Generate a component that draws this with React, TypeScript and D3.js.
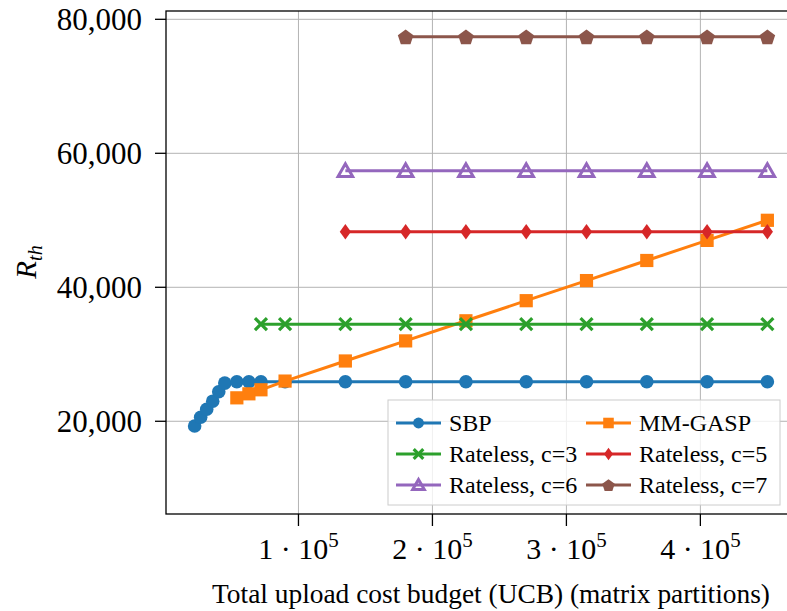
import * as d3 from 'd3'

// data
const sbpX = [22500, 27000, 31500, 36000, 40500, 45000, 54000, 63000, 72000, 90000, 135000, 180000, 225000, 270000, 315000, 360000, 405000, 450000]
const sbpY = [19300, 20600, 21800, 23000, 24400, 25700, 25900, 25900, 25900, 25900, 25900, 25900, 25900, 25900, 25900, 25900, 25900, 25900]
const gaspX = [54000, 63000, 72000, 90000, 135000, 180000, 225000, 270000, 315000, 360000, 405000, 450000]
const gaspY = [23500, 24100, 24700, 26000, 29000, 32000, 35000, 38000, 41000, 44000, 47000, 50000]
const c3X = [72000, 90000, 135000, 180000, 225000, 270000, 315000, 360000, 405000, 450000]
const c3Y = [34500, 34500, 34500, 34500, 34500, 34500, 34500, 34500, 34500, 34500]
const c5X = [135000, 180000, 225000, 270000, 315000, 360000, 405000, 450000]
const c5Y = [48300, 48300, 48300, 48300, 48300, 48300, 48300, 48300]
const c6X = [135000, 180000, 225000, 270000, 315000, 360000, 405000, 450000]
const c6Y = [57400, 57400, 57400, 57400, 57400, 57400, 57400, 57400]
const c7X = [180000, 225000, 270000, 315000, 360000, 405000, 450000]
const c7Y = [77400, 77400, 77400, 77400, 77400, 77400, 77400]

const xTicks = [100000, 200000, 300000, 400000]
const yTicks = [20000, 40000, 60000, 80000]

type Marker = 'circle' | 'square' | 'cross' | 'diamond' | 'triangle' | 'pentagon'

const series: { name: string; xs: number[]; ys: number[]; color: string; marker: Marker }[] = [
  { name: 'SBP', xs: sbpX, ys: sbpY, color: '#1f77b4', marker: 'circle' },
  { name: 'MM-GASP', xs: gaspX, ys: gaspY, color: '#ff7f0e', marker: 'square' },
  { name: 'Rateless, c=3', xs: c3X, ys: c3Y, color: '#2ca02c', marker: 'cross' },
  { name: 'Rateless, c=5', xs: c5X, ys: c5Y, color: '#d62728', marker: 'diamond' },
  { name: 'Rateless, c=6', xs: c6X, ys: c6Y, color: '#9467bd', marker: 'triangle' },
  { name: 'Rateless, c=7', xs: c7X, ys: c7Y, color: '#8c564b', marker: 'pentagon' },
]

const W = 787
const H = 611
const left = 166
const top = 11
const right = 796
const bottom = 514

const x = d3.scaleLinear().domain([1125, 471375]).range([left, right])
const y = d3.scaleLinear().domain([6160, 81240]).range([bottom, top])

const serif = { fontFamily: "'Liberation Serif', 'Times New Roman', Times, serif" }

function MarkerShape({ kind, cx, cy, color, s = 1 }: { kind: Marker; cx: number; cy: number; color: string; s?: number }) {
  if (kind === 'circle') return <circle cx={cx} cy={cy} r={6.8 * s} fill={color} />
  if (kind === 'square') {
    const h = 6.6 * s
    return <rect x={cx - h} y={cy - h} width={2 * h} height={2 * h} fill={color} />
  }
  if (kind === 'cross') {
    const h = 6 * s
    return (
      <path d={`M${cx - h},${cy - h}L${cx + h},${cy + h}M${cx - h},${cy + h}L${cx + h},${cy - h}`}
        stroke={color} strokeWidth={3.2} fill="none" />
    )
  }
  if (kind === 'diamond') {
    const w = 5.6 * s
    const h = 7.8 * s
    return <path d={`M${cx},${cy - h}L${cx + w},${cy}L${cx},${cy + h}L${cx - w},${cy}Z`} fill={color} />
  }
  if (kind === 'triangle') {
    const r = 8.4 * s
    const pts = [0, 1, 2].map(i => {
      const a = -Math.PI / 2 + (i * 2 * Math.PI) / 3
      return `${cx + r * Math.cos(a)},${cy + 1.5 * s + r * Math.sin(a)}`
    })
    return <polygon points={pts.join(' ')} fill="none" stroke={color} strokeWidth={3} />
  }
  const r = 8.2 * s
  const pts = [0, 1, 2, 3, 4].map(i => {
    const a = -Math.PI / 2 + (i * 2 * Math.PI) / 5
    return `${cx + r * Math.cos(a)},${cy + 1 * s + r * Math.sin(a)}`
  })
  return <polygon points={pts.join(' ')} fill={color} />
}

export default function App() {
  const line = d3.line<[number, number]>().x(d => x(d[0])).y(d => y(d[1]))

  const legendRows = [0, 1, 2]
  const colX = [396, 586]

  return (
    <svg width={W} height={H} style={{ position: 'absolute', left: 0, top: 0, background: '#fff' }}>
      {/* grid */}
      {xTicks.map(t => (
        <line key={'gx' + t} x1={x(t)} x2={x(t)} y1={top} y2={bottom} stroke="#b3b3b3" strokeWidth={1} />
      ))}
      {yTicks.map(t => (
        <line key={'gy' + t} x1={left} x2={right} y1={y(t)} y2={y(t)} stroke="#b3b3b3" strokeWidth={1} />
      ))}

      {/* series */}
      {series.map(s => {
        const pts = s.xs.map((v, i) => [v, s.ys[i]] as [number, number])
        return (
          <g key={s.name}>
            <path d={line(pts) ?? ''} fill="none" stroke={s.color} strokeWidth={3} />
            {pts.map((p, i) => (
              <MarkerShape key={i} kind={s.marker} cx={x(p[0])} cy={y(p[1])} color={s.color} />
            ))}
          </g>
        )
      })}

      {/* frame */}
      <rect x={left} y={top} width={right - left} height={bottom - top} fill="none" stroke="#000" strokeWidth={1.3} />

      {/* y axis */}
      {yTicks.map(t => (
        <g key={'yt' + t}>
          <line x1={155} x2={left} y1={y(t)} y2={y(t)} stroke="#000" strokeWidth={1.3} />
          <text x={142} y={y(t)} dy="0.36em" textAnchor="end" fontSize={31} style={serif}>
            {d3.format(',')(t)}
          </text>
        </g>
      ))}

      {/* x axis */}
      {xTicks.map(t => (
        <g key={'xt' + t}>
          <line x1={x(t)} x2={x(t)} y1={bottom} y2={bottom + 12} stroke="#000" strokeWidth={1.3} />
          <text x={x(t)} y={559} textAnchor="middle" fontSize={30} style={serif}>
            {`${t / 100000} · 10`}
            <tspan dy={-12} fontSize={21}>5</tspan>
          </text>
        </g>
      ))}

      <text x={491} y={603} textAnchor="middle" fontSize={27.4} style={serif}>
        Total upload cost budget (UCB) (matrix partitions)
      </text>

      <text transform={`translate(36,262) rotate(-90)`} textAnchor="middle" fontSize={29} fontStyle="italic" style={serif}>
        R<tspan dy={6} fontSize={20}>th</tspan>
      </text>

      {/* legend */}
      <rect x={388} y={400} width={392} height={105} fill="#fff" fillOpacity={0.8} stroke="#cccccc" strokeWidth={1} />
      {series.map((s, i) => {
        const cx0 = colX[i % 2]
        const cy = 423 + legendRows[Math.floor(i / 2)] * 31
        return (
          <g key={'lg' + s.name}>
            <line x1={cx0} x2={cx0 + 45} y1={cy} y2={cy} stroke={s.color} strokeWidth={3} />
            <MarkerShape kind={s.marker} cx={cx0 + 22.5} cy={cy} color={s.color} s={0.8} />
            <text x={cx0 + 53} y={cy} dy="0.35em" fontSize={24} style={serif}>{s.name}</text>
          </g>
        )
      })}
    </svg>
  )
}
